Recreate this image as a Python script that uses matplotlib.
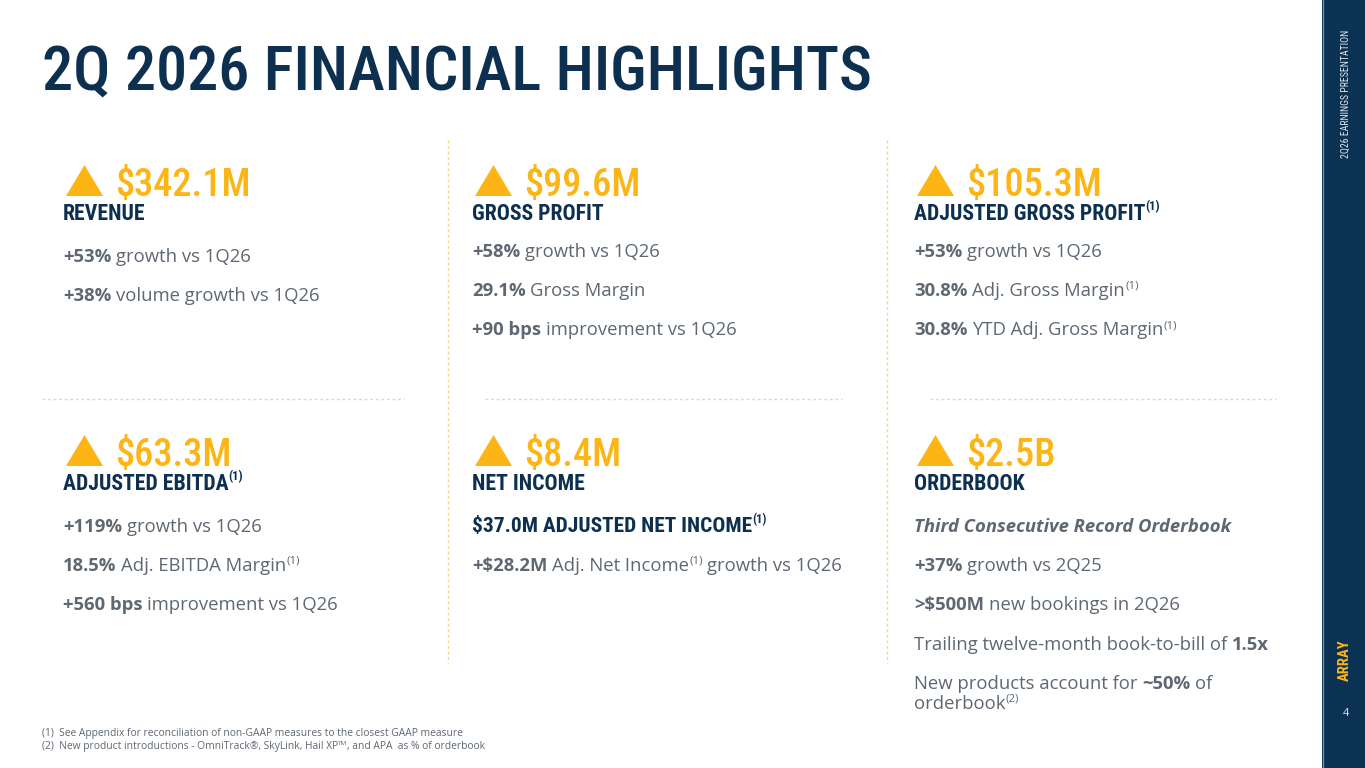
import matplotlib
matplotlib.use("Agg")
import matplotlib.pyplot as plt
from matplotlib import font_manager
from matplotlib.patches import Polygon, Rectangle

NAVY = "#0d3050"
GOLD = "#fdb515"
GRAY = "#5e6873"
DASH = "#f4d68e"
SIDEBAR = "#0c3253"

installed = {f.name for f in font_manager.fontManager.ttflist}


def pick(candidates):
    for c in candidates:
        if c in installed:
            return c
    return "DejaVu Sans"


COND = pick(["Roboto Condensed", "Liberation Sans Narrow", "DejaVu Sans"])
BODY = pick(["Open Sans", "Noto Sans", "DejaVu Sans"])

# ---- slide content ----
title = "2Q 2026 FINANCIAL HIGHLIGHTS"
side_title = "2Q26 EARNINGS PRESENTATION"
brand = "ARRAY"
page_number = "4"

values = ["$342.1M", "$99.6M", "$105.3M", "$63.3M", "$8.4M", "$2.5B"]
labels = ["REVENUE", "GROSS PROFIT", "ADJUSTED GROSS PROFIT",
          "ADJUSTED EBITDA", "NET INCOME", "ORDERBOOK"]
label_notes = ["", "", "(1)", "(1)", "", ""]

# each line is a list of (text, kind); b = bold, r = regular, sup = note,
# i = bold italic, h = navy heading, hsup = heading note
revenue_lines = [
    [("+53%", "b"), ("growth vs 1Q26", "r")],
    [("+38%", "b"), ("volume growth vs 1Q26", "r")],
]
gross_profit_lines = [
    [("+58%", "b"), ("growth vs 1Q26", "r")],
    [("29.1%", "b"), ("Gross Margin", "r")],
    [("+90 bps", "b"), ("improvement vs 1Q26", "r")],
]
adj_gross_profit_lines = [
    [("+53%", "b"), ("growth vs 1Q26", "r")],
    [("30.8%", "b"), ("Adj. Gross Margin", "r"), ("(1)", "sup")],
    [("30.8%", "b"), ("YTD Adj. Gross Margin", "r"), ("(1)", "sup")],
]
ebitda_lines = [
    [("+119%", "b"), ("growth vs 1Q26", "r")],
    [("18.5%", "b"), ("Adj. EBITDA Margin", "r"), ("(1)", "sup")],
    [("+560 bps", "b"), ("improvement vs 1Q26", "r")],
]
net_income_lines = [
    [("$37.0M ADJUSTED NET INCOME", "h"), ("(1)", "hsup")],
    [("+$28.2M", "b"), ("Adj. Net Income", "r"), ("(1)", "sup"), ("growth vs 1Q26", "r")],
]
orderbook_lines = [
    [("Third Consecutive Record Orderbook", "i")],
    [("+37%", "b"), ("growth vs 2Q25", "r")],
    [(">$500M", "b"), ("new bookings in 2Q26", "r")],
    [("Trailing twelve-month book-to-bill of", "r"), ("1.5x", "b")],
    [("New products account for", "r"), ("~50%", "b"), ("of", "r")],
    [("orderbook", "r"), ("(2)", "sup")],
]
card_lines = [revenue_lines, gross_profit_lines, adj_gross_profit_lines,
              ebitda_lines, net_income_lines, orderbook_lines]
wrapped_lines = {(5, 5)}  # continuation of the line above

footnotes = [
    [("(1)  See Appendix for reconciliation of non-GAAP measures to the closest GAAP measure", "r")],
    [("(2)  New product introductions - OmniTrack\u00ae, SkyLink, Hail XP", "r"), ("TM", "sup"),
     (", and APA  as % of orderbook", "r")],
]

# ---- figure in pixel coordinates ----
fig = plt.figure(figsize=(13.65, 7.68), dpi=100)
ax = fig.add_axes([0, 0, 1, 1])
ax.set_xlim(0, 1365)
ax.set_ylim(768, 0)
ax.axis("off")
renderer = fig.canvas.get_renderer()

BODY_SIZE = 13.3
HEAD_SIZE = 15.4
LABEL_SIZE = 15.7
STYLES = {
    "r": dict(family=BODY, weight="normal", color=GRAY),
    "b": dict(family=BODY, weight="bold", color=GRAY),
    "i": dict(family=BODY, weight="bold", style="italic", color=GRAY),
    "sup": dict(family=BODY, weight="normal", color=GRAY),
    "h": dict(family=COND, weight="bold", color=NAVY, fontstretch="condensed"),
    "hsup": dict(family=COND, weight="bold", color=NAVY, fontstretch="condensed"),
}


def text_width(t):
    return t.get_window_extent(renderer=renderer).width


def space_width(kind, fs):
    st = STYLES[kind if kind not in ("sup", "hsup") else "r"]
    a = ax.text(0, 0, "a a", fontsize=fs, **st)
    b = ax.text(0, 0, "aa", fontsize=fs, **st)
    w = text_width(a) - text_width(b)
    a.remove()
    b.remove()
    return w


def draw_runs(x, y, runs, size, head_size=HEAD_SIZE):
    cur = x
    prev_kind = None
    for text, kind in runs:
        fs = head_size if kind == "h" else size
        dy = 0
        if kind == "sup":
            fs = size * 0.62
            dy = -size * 0.55
        if kind == "hsup":
            fs = head_size * 0.58
            dy = -head_size * 0.6
        if prev_kind is not None and kind not in ("sup", "hsup") and not text.startswith(","):
            cur += space_width(prev_kind, fs)
        t = ax.text(cur, y + dy, text, fontsize=fs, va="baseline", ha="left", **STYLES[kind])
        cur += text_width(t)
        prev_kind = kind


# title
ax.text(42, 90, title, fontsize=44.7, color=NAVY, family=COND, weight="medium",
        fontstretch="condensed", va="baseline", ha="left")

# dashed separators
for xv in (448, 887):
    ax.plot([xv, xv], [140, 663], color=DASH, lw=1, ls=(0, (2, 2)))
for x0, x1 in ((42, 404), (485, 842), (930, 1276)):
    ax.plot([x0, x1], [399, 399], color=DASH, lw=1, ls=(0, (2, 2)))

# cards
col_x = [63, 472, 914]
value_base = [196, 466]
label_base = [220, 490]
line_start = [257, 532]
card_shift = {0: 5}
line_step = 39.2
wrap_step = 20

for k in range(6):
    row, col = divmod(k, 3)
    x = col_x[col]
    vb = value_base[row]
    ax.add_patch(Polygon([(x + 3, vb), (x + 40, vb), (x + 21.5, vb - 31)],
                         closed=True, color=GOLD, lw=0))
    ax.text(x + 52, vb, values[k], fontsize=27.5, color=GOLD, family=COND,
            fontstretch="condensed", weight="medium", va="baseline", ha="left")
    runs = [(labels[k], "h")]
    if label_notes[k]:
        runs.append((label_notes[k], "hsup"))
    draw_runs(x, label_base[row], runs, BODY_SIZE, head_size=LABEL_SIZE)
    y = line_start[row] + card_shift.get(k, 0)
    for i, line in enumerate(card_lines[k]):
        if i > 0:
            y += wrap_step if (k, i) in wrapped_lines else line_step
        draw_runs(x, y, line, BODY_SIZE)

# footnotes
for i, fn in enumerate(footnotes):
    draw_runs(42, 736 + i * 13.5, fn, 7.4)

# sidebar
ax.add_patch(Rectangle((1322, 0), 43, 768, color=SIDEBAR, lw=0))
ax.plot([1322.5, 1322.5], [0, 768], color="#6f8aa3", lw=1)
ax.text(1346, 30, side_title, rotation=90, fontsize=7.1, color="#dfe6ee",
        family=COND, fontstretch="condensed", va="top", ha="center")
ax.text(1345, 681, brand, rotation=90, fontsize=10.5, color=GOLD, family=COND,
        fontstretch="condensed", weight="bold", va="bottom", ha="center")
ax.text(1346, 713, page_number, fontsize=8, color="#dfe6ee", family=BODY,
        va="center", ha="center")

fig.savefig("out.png", dpi=100)
